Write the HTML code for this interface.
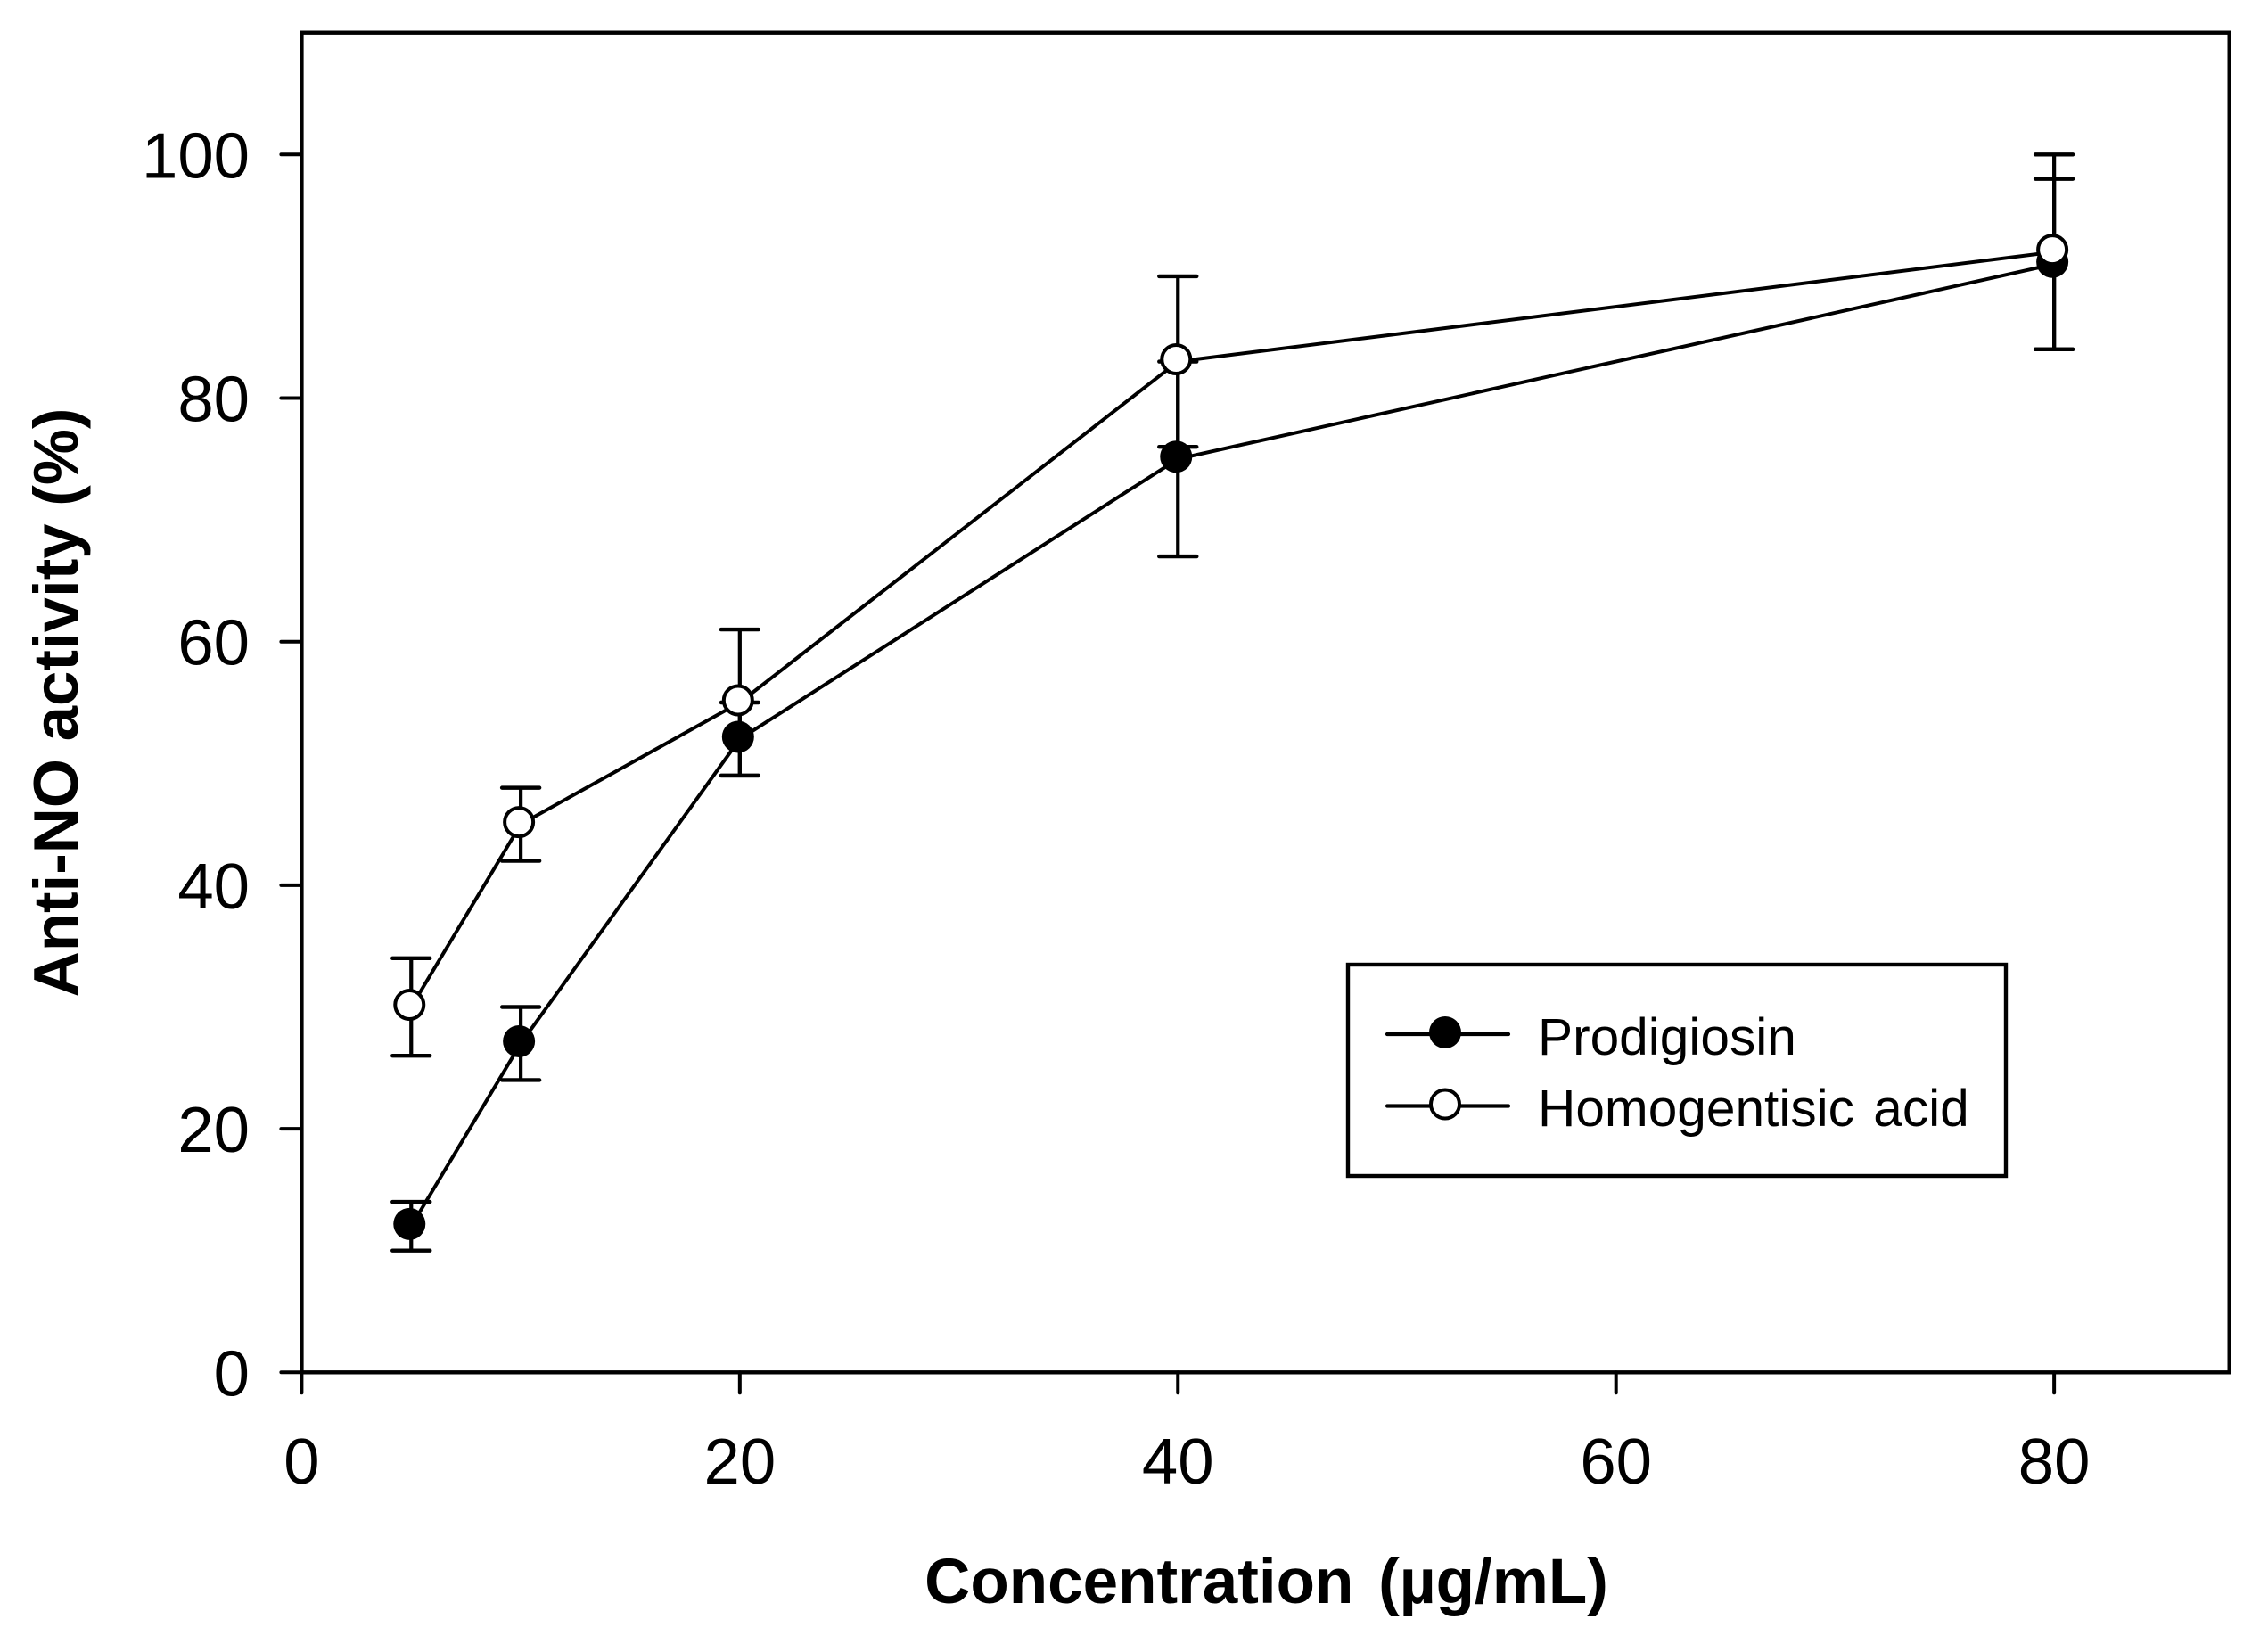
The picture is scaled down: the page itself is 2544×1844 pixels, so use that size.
<!DOCTYPE html>
<html lang="en">
<head>
<meta charset="utf-8">
<title>Anti-NO activity vs concentration</title>
<style>
  html, body { margin: 0; padding: 0; background: #ffffff; }
  svg { display: block; }
  text { font-family: "Liberation Sans", Arial, sans-serif; fill: #000; }
  .tick-label { font-size: 72.5px; }
  .axis-title { font-size: 71px; font-weight: bold; }
  .y-title { font-size: 70.8px; }
  .legend-label { font-size: 58.6px; }
</style>
</head>
<body>
<svg id="chart" xmlns="http://www.w3.org/2000/svg" width="2544" height="1844" viewBox="0 0 2544 1844">
  <rect x="0" y="0" width="2544" height="1844" fill="#ffffff"/>
  <g id="axes"></g>
  <g id="series"></g>
  <text class="axis-title" x="1420.5" y="1798" text-anchor="middle" word-spacing="8">Concentration (µg/mL)</text>
  <text class="axis-title y-title" transform="translate(87 788) rotate(-90)" text-anchor="middle">Anti-NO activity (%)</text>
  <g>
    <rect x="1512" y="1082" width="738" height="237" fill="#ffffff" stroke="#000" stroke-width="4.4"/>
    <g>
      <line x1="1556" y1="1160" x2="1692" y2="1160" stroke="#000" stroke-width="4.2" stroke-linecap="round"/>
      <circle cx="1629" cy="1163" r="18" fill="#000" transform="translate(-8 -5)"/>
      <text class="legend-label" x="1725" y="1183">Prodigiosin</text>
    </g>
    <g>
      <line x1="1556" y1="1240.5" x2="1692" y2="1240.5" stroke="#000" stroke-width="4.2" stroke-linecap="round"/>
      <circle cx="1621" cy="1238.5" r="16" fill="#fff" stroke="#000" stroke-width="4"/>
      <text class="legend-label" x="1725" y="1263" word-spacing="5">Homogentisic acid</text>
    </g>
  </g>
</svg>
<script>
const concentrations = [5, 10, 20, 40, 80];
const prodigiosinMeans = [12, 27, 52, 75, 91];
const prodigiosinErrors = [2, 3, 3, 8, 7];
const homogentisicMeans = [30, 45, 55, 83, 92];
const homogentisicErrors = [4, 3, 6, 7, 8];
const xTickValues = [0, 20, 40, 60, 80];
const yTickValues = [0, 20, 40, 60, 80, 100];
const xDomain = [0, 88];
const yDomain = [0, 110];

const plotLeft = 338.4, plotRight = 2500.7, plotTop = 36.7, plotBottom = 1539.3;
const SVG_NS = 'http://www.w3.org/2000/svg';

function xScale(v) {
  return plotLeft + (v - xDomain[0]) / (xDomain[1] - xDomain[0]) * (plotRight - plotLeft);
}
function yScale(v) {
  return plotBottom - (v - yDomain[0]) / (yDomain[1] - yDomain[0]) * (plotBottom - plotTop);
}
function make(tag, attrs, parent) {
  const el = document.createElementNS(SVG_NS, tag);
  for (const k in attrs) el.setAttribute(k, attrs[k]);
  parent.appendChild(el);
  return el;
}

const axes = document.getElementById('axes');
const seriesLayer = document.getElementById('series');

const frame = make('rect', {
  x: plotLeft, y: plotTop, width: plotRight - plotLeft, height: plotBottom - plotTop,
  fill: 'none', stroke: '#000', 'stroke-width': 4.4
}, axes);



xTickValues.forEach(function (v) {
  const x = xScale(v);
  const tick = make('line', {
    x1: x, y1: plotBottom, x2: x, y2: plotBottom + 23,
    stroke: '#000', 'stroke-width': 4, 'stroke-linecap': 'round'
  }, axes);
  
  
  const label = make('text', { x: x, y: 1664, 'text-anchor': 'middle', 'class': 'tick-label' }, axes);
  label.textContent = String(v);
  
  
});

yTickValues.forEach(function (v) {
  const y = yScale(v);
  const tick = make('line', {
    x1: plotLeft, y1: y, x2: plotLeft - 23, y2: y,
    stroke: '#000', 'stroke-width': 4, 'stroke-linecap': 'round'
  }, axes);
  
  
  const label = make('text', { x: 280, y: y + 26, 'text-anchor': 'end', 'class': 'tick-label' }, axes);
  label.textContent = String(v);
  
  
});

const markerShiftX = -2, markerShiftY = -2.5, capHalf = 21;

function drawErrorBars(key, means, errors) {
  concentrations.forEach(function (c, i) {
    const x = xScale(c);
    const yHi = yScale(means[i] + errors[i]);
    const yLo = yScale(means[i] - errors[i]);
    const stem = make('line', { x1: x, y1: yHi, x2: x, y2: yLo, stroke: '#000', 'stroke-width': 4.2 }, seriesLayer);
    
    
    const capTop = make('line', {
      x1: x - capHalf, y1: yHi, x2: x + capHalf, y2: yHi,
      stroke: '#000', 'stroke-width': 4.4, 'stroke-linecap': 'round'
    }, seriesLayer);
    
    
    const capBottom = make('line', {
      x1: x - capHalf, y1: yLo, x2: x + capHalf, y2: yLo,
      stroke: '#000', 'stroke-width': 4.4, 'stroke-linecap': 'round'
    }, seriesLayer);
    
    
  });
}

function drawLine(key, means) {
  const pts = concentrations.map(function (c, i) { return xScale(c) + ',' + yScale(means[i]); }).join(' ');
  const line = make('polyline', {
    points: pts, fill: 'none', stroke: '#000', 'stroke-width': 4, 'stroke-linejoin': 'round'
  }, seriesLayer);
  
  
}

function drawMarkers(key, means, filled) {
  concentrations.forEach(function (c, i) {
    const attrs = {
      cx: xScale(c) + markerShiftX,
      cy: yScale(means[i]) + markerShiftY,
      r: filled ? 18 : 16,
      fill: filled ? '#000' : '#fff'
    };
    if (!filled) {
      attrs.stroke = '#000';
      attrs['stroke-width'] = 4;
    }
    const dot = make('circle', attrs, seriesLayer);
    
    
  });
}

drawErrorBars('prodigiosin', prodigiosinMeans, prodigiosinErrors);
drawErrorBars('homogentisic-acid', homogentisicMeans, homogentisicErrors);
drawLine('prodigiosin', prodigiosinMeans);
drawLine('homogentisic-acid', homogentisicMeans);
drawMarkers('prodigiosin', prodigiosinMeans, true);
drawMarkers('homogentisic-acid', homogentisicMeans, false);
</script>
</body>
</html>
